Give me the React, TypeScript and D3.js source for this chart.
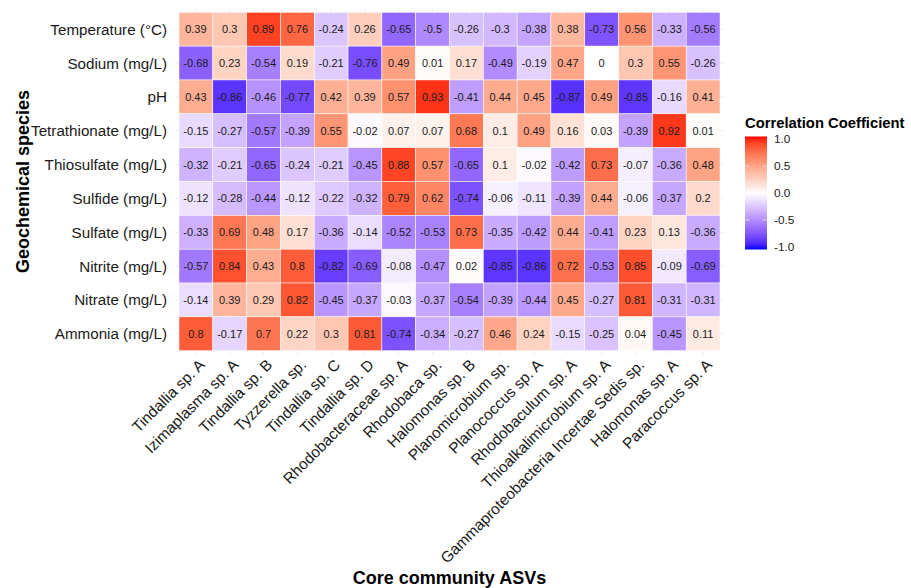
import React from "react";
import * as d3 from "d3";

const columns = [
  "Tindallia sp. A",
  "Izimaplasma sp. A",
  "Tindallia sp. B",
  "Tyzzerella sp.",
  "Tindallia sp. C",
  "Tindallia sp. D",
  "Rhodobacteraceae sp. A",
  "Rhodobaca sp.",
  "Halomonas sp. B",
  "Planomicrobium sp.",
  "Planococcus sp. A",
  "Rhodobaculum sp. A",
  "Thioalkalimicrobium sp. A",
  "Gammaproteobacteria Incertae Sedis sp.",
  "Halomonas sp. A",
  "Paracoccus sp. A",
];

const rows = [
  "Temperature (°C)",
  "Sodium (mg/L)",
  "pH",
  "Tetrathionate (mg/L)",
  "Thiosulfate (mg/L)",
  "Sulfide (mg/L)",
  "Sulfate (mg/L)",
  "Nitrite (mg/L)",
  "Nitrate (mg/L)",
  "Ammonia (mg/L)",
];

const temperature = [0.39, 0.3, 0.89, 0.76, -0.24, 0.26, -0.65, -0.5, -0.26, -0.3, -0.38, 0.38, -0.73, 0.56, -0.33, -0.56];
const sodium = [-0.68, 0.23, -0.54, 0.19, -0.21, -0.76, 0.49, 0.01, 0.17, -0.49, -0.19, 0.47, 0, 0.3, 0.55, -0.26];
const ph = [0.43, -0.86, -0.46, -0.77, 0.42, 0.39, 0.57, 0.93, -0.41, 0.44, 0.45, -0.87, 0.49, -0.85, -0.16, 0.41];
const tetrathionate = [-0.15, -0.27, -0.57, -0.39, 0.55, -0.02, 0.07, 0.07, 0.68, 0.1, 0.49, 0.16, 0.03, -0.39, 0.92, 0.01];
const thiosulfate = [-0.32, -0.21, -0.65, -0.24, -0.21, -0.45, 0.88, 0.57, -0.65, 0.1, -0.02, -0.42, 0.73, -0.07, -0.36, 0.48];
const sulfide = [-0.12, -0.28, -0.44, -0.12, -0.22, -0.32, 0.79, 0.62, -0.74, -0.06, -0.11, -0.39, 0.44, -0.06, -0.37, 0.2];
const sulfate = [-0.33, 0.69, 0.48, 0.17, -0.36, -0.14, -0.52, -0.53, 0.73, -0.35, -0.42, 0.44, -0.41, 0.23, 0.13, -0.36];
const nitrite = [-0.57, 0.84, 0.43, 0.8, -0.82, -0.69, -0.08, -0.47, 0.02, -0.85, -0.86, 0.72, -0.53, 0.85, -0.09, -0.69];
const nitrate = [-0.14, 0.39, 0.29, 0.82, -0.45, -0.37, -0.03, -0.37, -0.54, -0.39, -0.44, 0.45, -0.27, 0.81, -0.31, -0.31];
const ammonia = [0.8, -0.17, 0.7, 0.22, 0.3, 0.81, -0.74, -0.34, -0.27, 0.46, 0.24, -0.15, -0.25, 0.04, -0.45, 0.11];

const legendTicks = [1.0, 0.5, 0.0, -0.5, -1.0];

const W = 911;
const H = 588;
const FONT = "'Liberation Sans', Arial, Helvetica, sans-serif";

export default function App() {
  const matrix = [temperature, sodium, ph, tetrathionate, thiosulfate, sulfide, sulfate, nitrite, nitrate, ammonia];

  const x = d3.scaleBand<string>().domain(columns).range([179, 720]).padding(0);
  const y = d3.scaleBand<string>().domain(rows).range([12.3, 350.7]).padding(0);
  const color = d3
    .scaleLinear<string>()
    .domain([-1, 0, 1])
    .range(["blue", "white", "red"])
    .interpolate(d3.interpolateLab);

  const ext = 3.4;
  const [px0, px1] = x.range();
  const [py0, py1] = y.range();

  // legend
  const barX = 745;
  const barW = 22;
  const barTop = 136.5;
  const barBot = 249.5;
  const ly = d3.scaleLinear().domain([1, -1]).range([139, 247]);
  const stops = d3.range(0, 1.0001, 0.05).map((t) => ({ off: t, v: 1 - 2 * t }));

  const fmt = (v: number) => String(v);

  return (
    <svg width={W} height={H} style={{ position: "absolute", left: 0, top: 0, background: "white" }} fontFamily={FONT}>
      <defs>
        <linearGradient id="lg" x1="0" y1="0" x2="0" y2="1">
          {stops.map((s, i) => (
            <stop key={i} offset={s.off} stopColor={color(s.v)} />
          ))}
        </linearGradient>
      </defs>
      <rect width={W} height={H} fill="white" />
      {/* grid lines */}
      <g stroke="#ebebeb" strokeWidth={1}>
        {columns.map((c) => (
          <line key={c} x1={x(c)! + x.bandwidth() / 2} x2={x(c)! + x.bandwidth() / 2} y1={py0 - ext} y2={py1 + ext} />
        ))}
        {rows.map((r) => (
          <line key={r} y1={y(r)! + y.bandwidth() / 2} y2={y(r)! + y.bandwidth() / 2} x1={px0 - ext} x2={px1 + ext} />
        ))}
      </g>
      {/* tiles */}
      <g>
        {rows.map((r, ri) =>
          columns.map((c, ci) => (
            <rect
              key={r + c}
              x={x(c)!}
              y={y(r)!}
              width={x.bandwidth()}
              height={y.bandwidth()}
              fill={color(matrix[ri][ci])}
              stroke="white"
              strokeWidth={0.5}
            />
          ))
        )}
      </g>
      <g fontSize={11} fill="#1a1a1a" textAnchor="middle">
        {rows.map((r, ri) =>
          columns.map((c, ci) => (
            <text key={r + c} x={x(c)! + x.bandwidth() / 2} y={y(r)! + y.bandwidth() / 2} dy="0.36em">
              {fmt(matrix[ri][ci])}
            </text>
          ))
        )}
      </g>
      {/* y labels */}
      <g fontSize={15.2} fill="#1a1a1a" textAnchor="end">
        {rows.map((r) => (
          <text key={r} x={167} y={y(r)! + y.bandwidth() / 2} dy="0.36em">
            {r}
          </text>
        ))}
      </g>
      {/* x labels */}
      <g fontSize={15.4} fill="#1a1a1a" textAnchor="end">
        {columns.map((c) => {
          const cx = x(c)! + x.bandwidth() / 2 + 2;
          const cy = 358;
          return (
            <text key={c} transform={`translate(${cx},${cy}) rotate(-45)`} dy="0.72em">
              {c}
            </text>
          );
        })}
      </g>
      {/* axis titles */}
      <text
        x={(px0 + px1) / 2}
        y={584}
        textAnchor="middle"
        fontSize={18}
        fontWeight="bold"
        fill="black"
      >
        Core community ASVs
      </text>
      <text
        transform={`translate(28.5,${(py0 + py1) / 2}) rotate(-90)`}
        textAnchor="middle"
        fontSize={18}
        fontWeight="bold"
        fill="black"
      >
        Geochemical species
      </text>
      {/* legend */}
      <text x={745} y={128} fontSize={14.8} fontWeight="bold" fill="black">
        Correlation Coefficient
      </text>
      <rect x={barX} y={barTop} width={barW} height={barBot - barTop} fill="url(#lg)" />
      <g stroke="white" strokeWidth={0.8} opacity={0.8}>
        {legendTicks.slice(1, 4).map((t) => (
          <g key={t}>
            <line x1={barX} x2={barX + 4.4} y1={ly(t)} y2={ly(t)} />
            <line x1={barX + barW - 4.4} x2={barX + barW} y1={ly(t)} y2={ly(t)} />
          </g>
        ))}
      </g>
      <g fontSize={11.8} fill="#1a1a1a">
        {legendTicks.map((t) => (
          <text key={t} x={774} y={ly(t)} dy="0.36em">
            {t.toFixed(1)}
          </text>
        ))}
      </g>
    </svg>
  );
}
